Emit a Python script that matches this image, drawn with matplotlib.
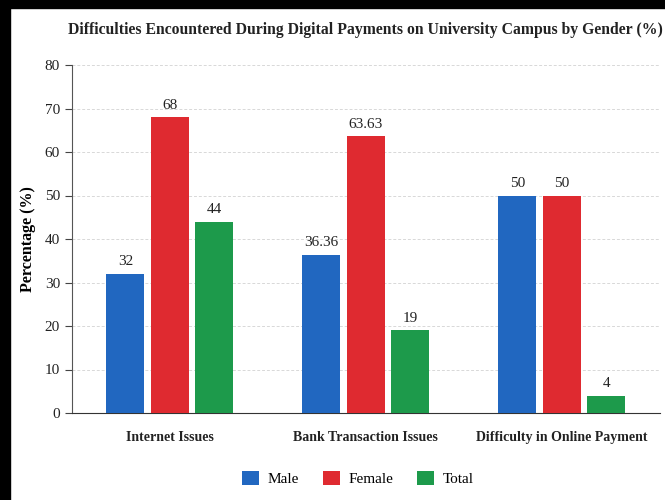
import numpy as np
import matplotlib
matplotlib.use("Agg")
import matplotlib.pyplot as plt
from matplotlib.patches import Rectangle, Patch

plt.rcParams['font.family'] = ['Liberation Serif', 'DejaVu Serif']

categories = ['Internet Issues', 'Bank Transaction Issues', 'Difficulty in Online Payment']
male = [32, 36.36, 50]
female = [68, 63.63, 50]
total = [44, 19, 4]
male_labels = ['32', '36.36', '50']
female_labels = ['68', '63.63', '50']
total_labels = ['44', '19', '4']
yticks = [0, 10, 20, 30, 40, 50, 60, 70, 80]

colors = {'Male': '#2167c0', 'Female': '#df2a30', 'Total': '#1d9a4b'}

fig = plt.figure(figsize=(6.65, 5.0), dpi=100)
ax = fig.add_axes([0.108, 0.174, 0.884, 0.696])

x = np.arange(len(categories))
w = 0.193
step = 0.227

series = [('Male', male, male_labels), ('Female', female, female_labels), ('Total', total, total_labels)]
for i, (name, vals, labs) in enumerate(series):
    bars = ax.bar(x + (i - 1) * step, vals, w, color=colors[name], zorder=3)
    ax.bar_label(bars, labels=labs, padding=4, fontsize=11, color='#222222')

ax.set_xlim(-0.5, 2.5)
ax.set_ylim(0, 80)
ax.set_yticks(yticks)
ax.set_xticks(x)
ax.set_xticklabels(categories, fontsize=10, fontweight='bold', color='#222222')
ax.tick_params(axis='x', length=0, pad=13)
ax.tick_params(axis='y', labelsize=11, length=5, color='#444444', labelcolor='#222222')
ax.yaxis.grid(True, linestyle=(0, (3, 2)), color='#d8d8d8', linewidth=0.7, zorder=0)
for s in ['top', 'right']:
    ax.spines[s].set_visible(False)
ax.spines['left'].set_color('#555555')
ax.spines['bottom'].set_color('#333333')
ax.set_ylabel('Percentage (%)', fontsize=11.5, fontweight='bold', labelpad=6)

fig.suptitle('Difficulties Encountered During Digital Payments on University Campus by Gender (%)',
             fontsize=11.3, fontweight='bold', x=0.549, y=0.955, color='#222222')

handles = [Patch(facecolor=colors[n]) for n in ['Male', 'Female', 'Total']]
fig.legend(handles, ['Male', 'Female', 'Total'], loc='center', bbox_to_anchor=(0.538, 0.043),
           ncol=3, frameon=False, fontsize=11, handlelength=1.1, handleheight=1.1,
           columnspacing=1.6, handletextpad=0.55)

# black frame visible at top and left edges
fig.patches.append(Rectangle((0, 0), 10 / 665, 1, transform=fig.transFigure, color='black', zorder=10))
fig.patches.append(Rectangle((0, 1 - 8 / 500), 1, 8 / 500, transform=fig.transFigure, color='black', zorder=10))

fig.savefig('out.png', dpi=100)
